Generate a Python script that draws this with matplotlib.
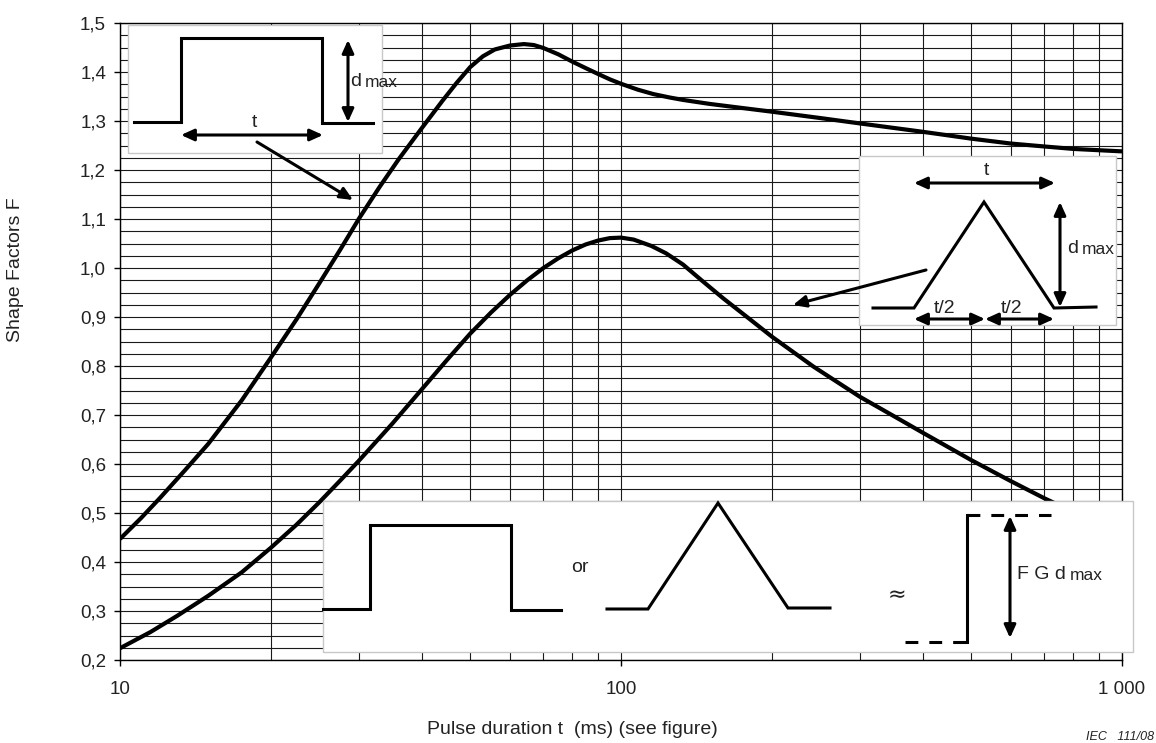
import matplotlib
matplotlib.use("Agg")
import matplotlib.pyplot as plt
from matplotlib.ticker import FixedLocator, FixedFormatter, LogLocator, MultipleLocator, NullFormatter
from matplotlib.patches import Rectangle

plt.rcParams['font.family'] = ['Liberation Sans', 'DejaVu Sans']

# pulse duration (ms) and shape factor, rectangular pulse
t_rect = [10, 11, 12, 13.5, 15, 17.5, 20, 22.5, 25, 27.5, 30, 33, 36, 40, 44, 47, 50,
          53, 56, 60, 64, 67, 70, 75, 80, 85, 90, 95, 100, 108, 116, 125, 133, 150,
          167, 200, 250, 300, 400, 500, 600, 700, 800, 1000]
F_rect = [0.447, 0.489, 0.530, 0.588, 0.641, 0.730, 0.817, 0.895, 0.969, 1.037, 1.101,
          1.166, 1.222, 1.285, 1.341, 1.378, 1.410, 1.432, 1.446, 1.454, 1.457, 1.455,
          1.449, 1.436, 1.421, 1.408, 1.396, 1.385, 1.376, 1.364, 1.355, 1.348, 1.343,
          1.335, 1.329, 1.319, 1.306, 1.295, 1.278, 1.264, 1.254, 1.248, 1.243, 1.238]

# triangular pulse
t_tri = [10, 11.5, 13, 15, 17.5, 20, 22.5, 25, 27.5, 30, 35, 40, 45, 50, 55, 60, 65,
         70, 75, 80, 85, 90, 95, 100, 106, 115, 123, 133, 144, 160, 180, 200, 242,
         300, 350, 400, 500, 600, 700, 800]
F_tri = [0.224, 0.257, 0.290, 0.331, 0.379, 0.429, 0.476, 0.522, 0.566, 0.607, 0.683,
         0.752, 0.813, 0.866, 0.909, 0.945, 0.975, 1.000, 1.020, 1.036, 1.048, 1.056,
         1.061, 1.062, 1.058, 1.045, 1.030, 1.007, 0.977, 0.938, 0.897, 0.860, 0.799,
         0.737, 0.698, 0.664, 0.608, 0.565, 0.530, 0.502]

x_ticks = [10, 100, 1000]
x_labels = ['10', '100', '1 000']
y_ticks = [0.2, 0.3, 0.4, 0.5, 0.6, 0.7, 0.8, 0.9, 1.0, 1.1, 1.2, 1.3, 1.4, 1.5]
y_labels = [('%.1f' % v).replace('.', ',') for v in y_ticks]

W, H = 1156, 743
fig = plt.figure(figsize=(W / 100, H / 100), dpi=100)
ax = fig.add_axes([120 / W, 1 - 660 / H, 1002 / W, 637 / H])

ax.set_xscale('log')
ax.set_xlim(10, 1000)
ax.set_ylim(0.2, 1.5)

ax.plot(t_rect, F_rect, color='black', lw=3.0, solid_capstyle='butt', zorder=3)
ax.plot(t_tri, F_tri, color='black', lw=3.0, solid_capstyle='butt', zorder=3)

# grid
ax.yaxis.set_minor_locator(MultipleLocator(0.025))
ax.xaxis.set_minor_locator(LogLocator(base=10, subs=range(2, 10)))
ax.xaxis.set_minor_formatter(NullFormatter())
ax.grid(True, which='both', axis='both', color='#1a1a1a', lw=0.8)
ax.set_axisbelow(True)

ax.xaxis.set_major_locator(FixedLocator(x_ticks))
ax.xaxis.set_major_formatter(FixedFormatter(x_labels))
ax.yaxis.set_major_locator(FixedLocator(y_ticks))
ax.yaxis.set_major_formatter(FixedFormatter(y_labels))
ax.tick_params(which='major', length=4, width=1, color='black', labelsize=13.5,
               labelcolor='#222222')
ax.tick_params(axis='x', which='major', pad=11)
ax.tick_params(axis='y', which='major', pad=6)
ax.tick_params(which='minor', length=0)
for sp in ax.spines.values():
    sp.set_linewidth(1.0)
    sp.set_color('black')

fig.text(16 / W, 1 - 270 / H, 'Shape Factors F', rotation=90, ha='center', va='center',
         fontsize=14, color='#222222')
fig.text(572 / W, 1 - 730 / H, 'Pulse duration t  (ms) (see figure)', ha='center',
         va='center', fontsize=14, color='#222222')
fig.text(1086 / W, 1 - 740 / H, 'IEC   111/08', ha='left', va='baseline', fontsize=9,
         style='italic', color='#222222')

# sketches of the pulse shapes, drawn in pixel units on top of the chart
ov = fig.add_axes([0, 0, 1, 1], zorder=5)
ov.set_xlim(0, W)
ov.set_ylim(H, 0)
ov.axis('off')
ov.patch.set_alpha(0)

LW = 2.2
HEAD = '<|-|>,head_length=0.55,head_width=0.25'
TIP = '-|>,head_length=0.55,head_width=0.25'
TXT = dict(fontsize=14, color='#222222')


def box(x0, y0, x1, y1):
    ov.add_patch(Rectangle((x0, y0), x1 - x0, y1 - y0, facecolor='white',
                           edgecolor='#c8c8c8', lw=1.0))


def path(xs, ys, **kw):
    ov.plot(xs, ys, color='black', lw=LW, solid_joinstyle='miter', **kw)


def arrow(x0, y0, x1, y1, style=HEAD):
    ov.annotate('', xy=(x1, y1), xytext=(x0, y0),
                arrowprops=dict(arrowstyle=style, color='black', lw=LW,
                                mutation_scale=14, shrinkA=0, shrinkB=0))


def dmax(x, y, big='d'):
    t = ov.text(x, y, big, va='baseline', ha='left', **TXT)
    fig.canvas.draw()
    bb = t.get_window_extent()
    xe = ov.transData.inverted().transform((bb.x1, bb.y0))[0]
    ov.text(xe + 4, y + 1, 'max', fontsize=12.5, va='baseline', ha='left', color='#222222')


# rectangular pulse
box(128, 25, 382, 153)
path([134, 181, 181, 322, 322, 373], [122, 122, 38, 38, 123, 123])
arrow(348, 122, 348, 40)
dmax(350, 86)
ov.text(254, 127, 't', ha='center', va='baseline', **TXT)
arrow(181, 135, 323, 135)
arrow(257, 142, 353, 200, style=TIP)

# triangular pulse
box(859, 156, 1116, 325)
ov.text(986, 175, 't', ha='center', va='baseline', **TXT)
arrow(914, 183, 1055, 183)
path([873, 914, 984, 1054, 1096], [308, 308, 202, 308, 307])
arrow(1060, 307, 1060, 202)
dmax(1067, 253)
ov.text(945, 313, 't/2', ha='center', va='baseline', **TXT)
ov.text(1012, 313, 't/2', ha='center', va='baseline', **TXT)
arrow(914, 319, 985, 319)
arrow(985, 319, 1054, 319)
arrow(926, 270, 793, 305, style=TIP)

# equivalent step
box(323, 501, 1133, 652)
path([323, 370, 370, 511, 511, 561], [609, 609, 525, 525, 610, 610])
ov.text(580, 568, 'or', ha='center', va='center', **TXT)
path([607, 648, 718, 788, 830], [609, 609, 503, 608, 608])
ov.text(897, 595, '\u2248', ha='center', va='center', fontsize=16,
        family='DejaVu Sans', color='#222222')
path([905, 967], [642, 642], ls=(0, (4.2, 3.6)))
path([967, 967], [642, 515], solid_capstyle='projecting')
path([967, 1051], [515, 515], ls=(0, (4.2, 3.6)))
arrow(1010, 638, 1010, 516)
dmax(1017, 579, big='F G d')

fig.savefig('out.png', dpi=100)
